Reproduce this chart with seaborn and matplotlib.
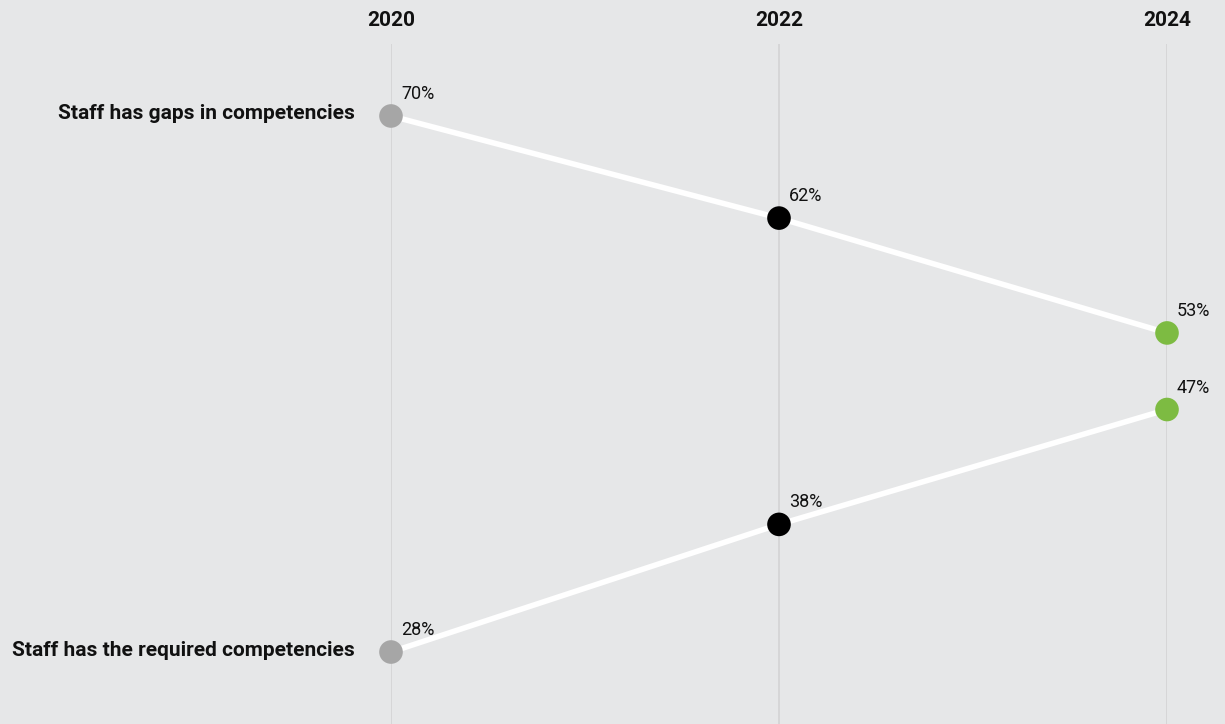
import matplotlib
matplotlib.use("Agg")
import matplotlib.pyplot as plt
import seaborn as sns
import pandas as pd
from matplotlib import font_manager

years = ["2020", "2022", "2024"]
gaps = [70, 62, 53]
required = [28, 38, 47]
series_labels = ["Staff has gaps in competencies", "Staff has the required competencies"]
point_colors = ["#a6a6a6", "#000000", "#7dbb42"]

bg = "#e6e7e8"
sns.set_theme(style="white")
names = {f.name for f in font_manager.fontManager.ttflist}
fam = [f for f in ["Liberation Sans Narrow", "Roboto", "DejaVu Sans"] if f in names]
plt.rcParams["font.family"] = fam

df = pd.DataFrame({
    "x": list(range(3)) * 2,
    "value": gaps + required,
    "series": [series_labels[0]] * 3 + [series_labels[1]] * 3,
    "year": years * 2,
})

fig = plt.figure(figsize=(12.25, 7.24), dpi=100, facecolor=bg)
ax = fig.add_axes([391 / 1225, 0, 776 / 1225, 680 / 724])
ax.set_facecolor(bg)
ax.set_xlim(0, 2)
ax.set_ylim(22.36, 75.64)

for i in range(3):
    ax.axvline(i, color="#d2d2d2", lw=1.1, zorder=0)

sns.lineplot(data=df, x="x", y="value", units="series", estimator=None,
             color="white", lw=4, ax=ax, legend=False, zorder=2, clip_on=False)
sns.scatterplot(data=df, x="x", y="value", hue="year", palette=dict(zip(years, point_colors)),
                s=17 ** 2, linewidth=0, ax=ax, legend=False, zorder=3, clip_on=False)

for _, r in df.iterrows():
    ax.annotate(f"{r['value']}%", (r["x"], r["value"]), xytext=(10, 13),
                textcoords="offset pixels", ha="left", va="bottom",
                fontsize=13, color="#111111")

for lab, v in zip(series_labels, [gaps[0], required[0]]):
    ax.annotate(lab, (0, v), xytext=(-36, 2), textcoords="offset pixels",
                ha="right", va="center", fontsize=15, fontweight="bold", color="#111111")

for i, y in enumerate(years):
    ax.annotate(y, (i, 1), xycoords=("data", "axes fraction"), xytext=(0, 24),
                textcoords="offset pixels", ha="center", va="center",
                fontsize=15, fontweight="bold", color="#111111")

ax.set_xticks([])
ax.set_yticks([])
ax.set_xlabel("")
ax.set_ylabel("")
for s in ax.spines.values():
    s.set_visible(False)

fig.savefig("out.png", dpi=100, facecolor=bg)
